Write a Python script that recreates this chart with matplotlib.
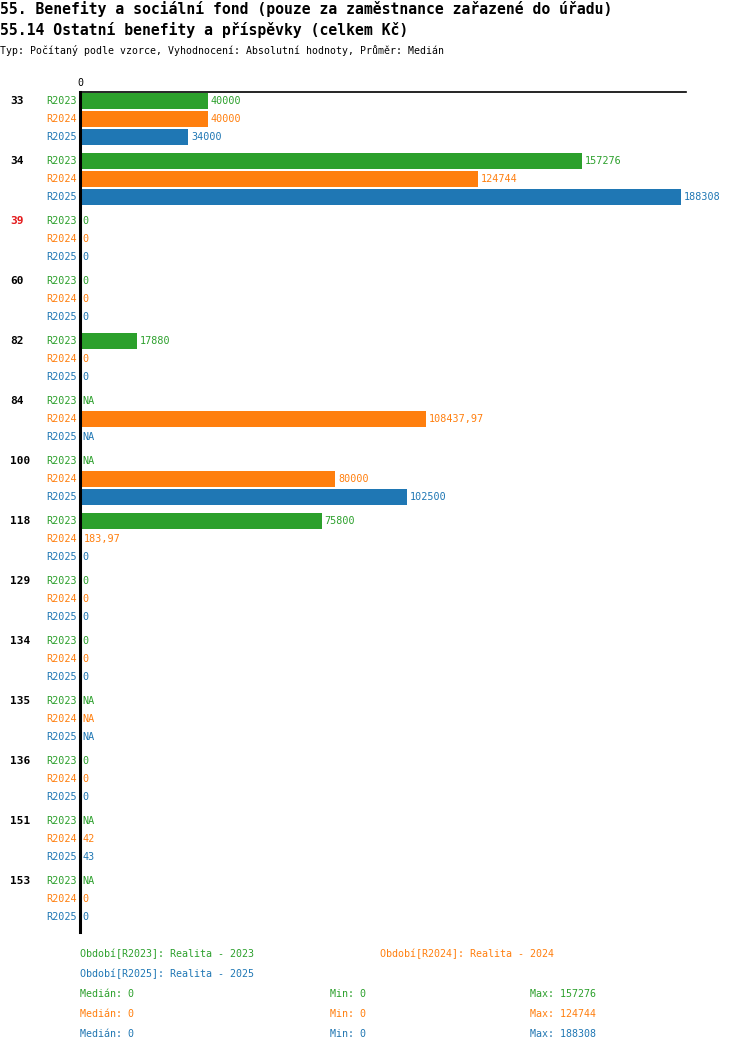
import numpy as np
import matplotlib
matplotlib.use("Agg")
import matplotlib.pyplot as plt
import matplotlib.transforms as mtransforms

groups = ['33', '34', '39', '60', '82', '84', '100', '118', '129', '134', '135', '136', '151', '153']
series = ['R2023', 'R2024', 'R2025']
r2023 = [40000, 157276, 0, 0, 17880, None, None, 75800, 0, 0, None, 0, None, None]
r2024 = [40000, 124744, 0, 0, 0, 108437.97, 80000, 183.97, 0, 0, None, 0, 42, 0]
r2025 = [34000, 188308, 0, 0, 0, None, 102500, 0, 0, 0, None, 0, 43, 0]
values = [r2023, r2024, r2025]
colors = ['#2ca02c', '#ff7f0e', '#1f77b4']
group_colors = ['black'] * len(groups)
group_colors[2] = '#e41a1c'

legend_texts = ['Období[R2023]: Realita - 2023', 'Období[R2024]: Realita - 2024',
                'Období[R2025]: Realita - 2025']
medians = ['0', '0', '0']
mins = ['0', '0', '0']
maxs = ['157276', '124744', '188308']

title1 = '55. Benefity a sociální fond (pouze za zaměstnance zařazené do úřadu)'
title2 = '55.14 Ostatní benefity a příspěvky (celkem Kč)'
subtitle = 'Typ: Počítaný podle vzorce, Vyhodnocení: Absolutní hodnoty, Průměr: Medián'

W, H = 750, 1052
fig = plt.figure(figsize=(W / 100, H / 100), dpi=100)
mono = 'DejaVu Sans Mono'

def fx(px):
    return px / W

def fy(py):
    return 1 - py / H

ax = fig.add_axes([fx(80), fy(932), fx(686) - fx(80), fy(92) - fy(932)])

gstep = 60 / 18.0
def fmt(v):
    if v is None:
        return 'NA'
    if float(v).is_integer():
        return str(int(v))
    return ('%.2f' % v).replace('.', ',')

for g, name in enumerate(groups):
    for s in range(3):
        y = g * gstep + s
        v = values[s][g]
        if v is not None and v > 0:
            ax.barh(y, v, height=16 / 18.0, color=colors[s], left=0)
        xv = v if v is not None else 0
        ax.annotate(fmt(v), (xv, y), xytext=(2, 0), textcoords='offset points',
                    color=colors[s], fontsize=7.3, family=mono, va='center', ha='left')

ax.set_xlim(0, 190000)
ax.set_ylim(13 * gstep + 2 + 15 / 18.0, -9 / 18.0)

ax.spines['right'].set_visible(False)
ax.spines['bottom'].set_visible(False)
ax.spines['left'].set_linewidth(2.2)
ax.spines['top'].set_linewidth(1.2)
ax.xaxis.tick_top()
ax.set_xticks([0])
ax.set_xticklabels(['0'], family=mono, fontsize=7.2)
ax.tick_params(axis='x', length=0, pad=3)
ax.set_yticks([])

trans = mtransforms.blended_transform_factory(fig.transFigure, ax.transData)
for g, name in enumerate(groups):
    for s in range(3):
        y = g * gstep + s
        ax.text(fx(77), y, series[s], transform=trans, color=colors[s],
                fontsize=7.3, family=mono, va='center', ha='right')
    ax.text(fx(10), g * gstep, name, transform=trans, color=group_colors[g],
            fontsize=8, family=mono, fontweight='bold', va='center', ha='left')

fig.text(0, fy(9), title1, family=mono, fontsize=10.6, fontweight='bold', va='center', ha='left')
fig.text(0, fy(30), title2, family=mono, fontsize=10.6, fontweight='bold', va='center', ha='left')
fig.text(0, fy(50), subtitle, family=mono, fontsize=7.1, va='center', ha='left')

fig.text(fx(80), fy(954), legend_texts[0], color=colors[0], family=mono, fontsize=7.2, va='center')
fig.text(fx(380), fy(954), legend_texts[1], color=colors[1], family=mono, fontsize=7.2, va='center')
fig.text(fx(80), fy(974), legend_texts[2], color=colors[2], family=mono, fontsize=7.2, va='center')
for s in range(3):
    yy = fy(994 + 20 * s)
    fig.text(fx(80), yy, 'Medián: ' + medians[s], color=colors[s], family=mono, fontsize=7.2, va='center')
    fig.text(fx(330), yy, 'Min: ' + mins[s], color=colors[s], family=mono, fontsize=7.2, va='center')
    fig.text(fx(530), yy, 'Max: ' + maxs[s], color=colors[s], family=mono, fontsize=7.2, va='center')

fig.savefig('out.png', dpi=100)
